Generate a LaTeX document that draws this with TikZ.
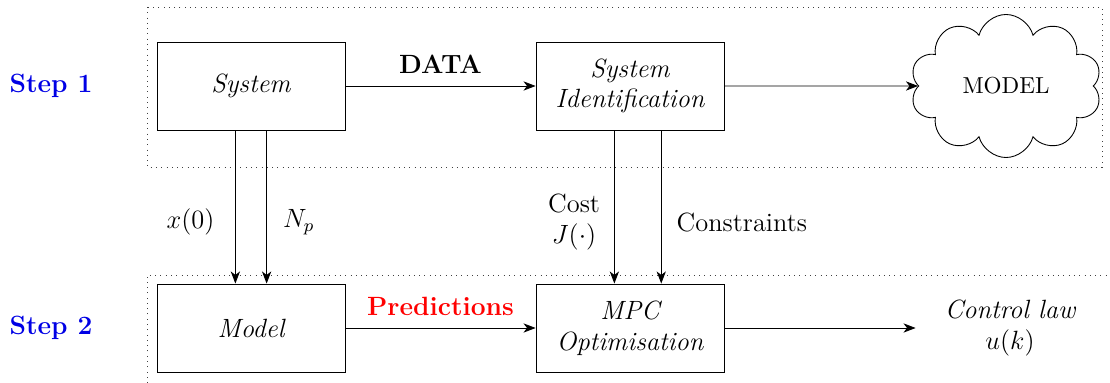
\documentclass[tikz,border=0pt]{standalone}
\usetikzlibrary{arrows.meta,shapes.symbols}
\begin{document}
\begin{tikzpicture}[x=0.4545pt,y=-0.4545pt,
  blk/.style={draw,minimum width=85.4pt,minimum height=40pt,align=center,font=\large\itshape},
  arr/.style={-{Stealth[length=5.5pt,width=4.2pt,inset=1.6pt]}},
  lbl/.style={font=\large,align=center},
  steplbl/.style={font=\large\bfseries,text=blue!90!black},
  area/.style={dotted,line width=0.4pt,black!75}]
\useasboundingbox (0,0) rectangle (1110,383);
% dotted areas
\draw[area] (147,7) rectangle (1102,167);
\draw[area] (147,383) -- (147,275) -- (1110,275);
% step labels
\node[steplbl] (s1) at (51,86) {Step 1};
\node[steplbl] (s2) at (51,328) {Step 2};
% blocks
\node[blk] (sys) at (251,86) {System};
\node[blk] (sid) at (630,86) {System\\Identification};
\node[draw,cloud,cloud puffs=10,cloud puff arc=150,aspect=1.35,minimum width=87pt,minimum height=65pt,inner sep=0pt,font=\fontsize{10.5}{12}\selectfont] (cloud) at (1006,86) {MODEL};
\node[blk] (model) at (251,328) {Model};
\node[blk] (mpc) at (630,328) {MPC\\Optimisation};
\node[lbl,font=\large\itshape,minimum width=85.4pt] (law) at (1010,328) {Control law\\$u(k)$};
% connectors
\draw[arr] (sys) -- node[above=2pt,font=\large\bfseries] (data) {DATA} (sid);
\draw[arr] (sid) -- (cloud);
\draw[arr] ([xshift=-7.1pt]sys.south) -- node[pos=0.6,left=6pt,lbl] (x0) {$x(0)$} ([xshift=-7.1pt]model.north);
\draw[arr] ([xshift=7.1pt]sys.south) -- node[pos=0.6,right=4pt,lbl] (np) {$N_p$} ([xshift=7.1pt]model.north);
\draw[arr] ([xshift=-7.1pt]sid.south) -- node[pos=0.6,left=3pt,lbl] (cost) {Cost\\$J(\cdot)$} ([xshift=-7.1pt]mpc.north);
\draw[arr] ([xshift=14.2pt]sid.south) -- node[pos=0.6,right=3.5pt,lbl] (cons) {Constraints} ([xshift=14.2pt]mpc.north);
\draw[arr] (model) -- node[above=2pt,font=\large\bfseries,text=red] (pred) {Predictions} (mpc);
\draw[arr] (mpc) -- (law);
\end{tikzpicture}
\end{document}
